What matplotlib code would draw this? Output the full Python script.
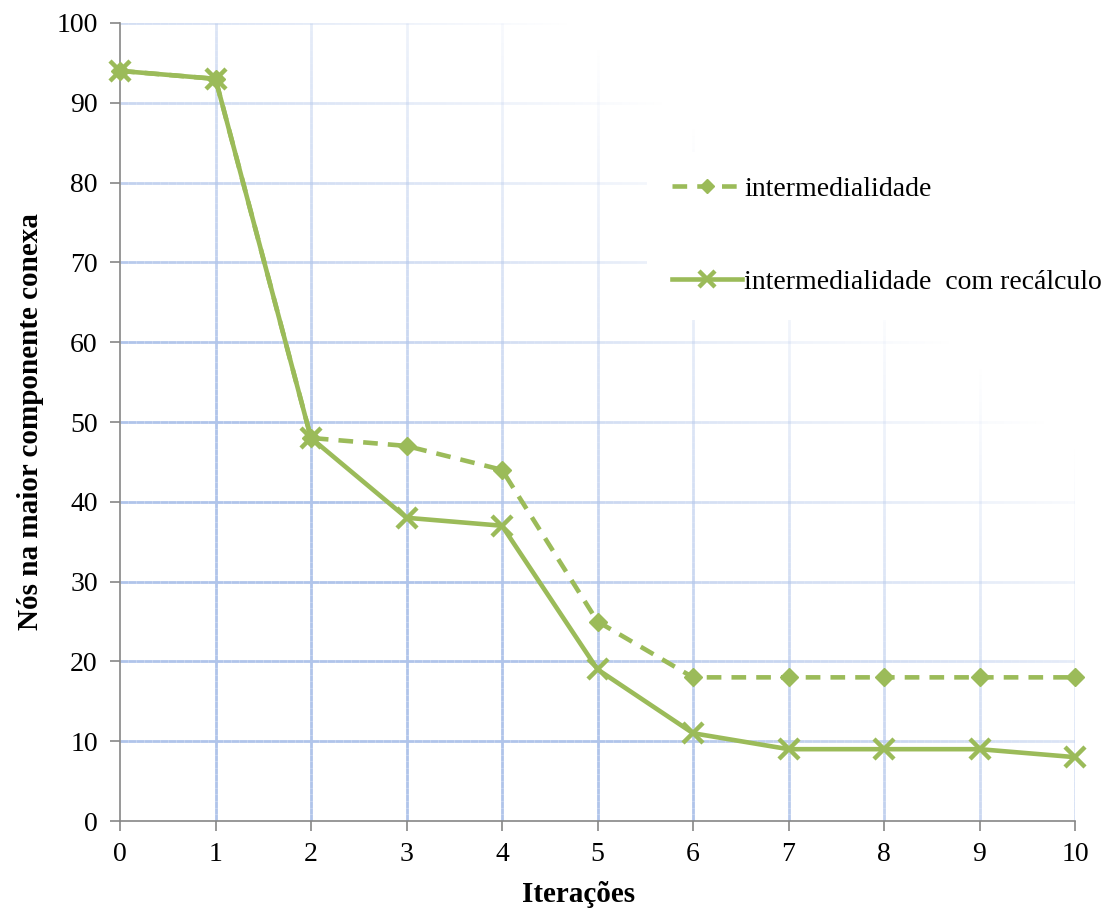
import numpy as np
import matplotlib
matplotlib.use('Agg')
import matplotlib.pyplot as plt
from matplotlib.collections import LineCollection

plt.rcParams['font.family'] = ['Liberation Serif', 'DejaVu Serif']

# data
iteracoes = [0, 1, 2, 3, 4, 5, 6, 7, 8, 9, 10]
intermedialidade = [94, 93, 48, 47, 44, 25, 18, 18, 18, 18, 18]
recalculo = [94, 93, 48, 38, 37, 19, 11, 9, 9, 9, 8]
yticks = [0, 10, 20, 30, 40, 50, 60, 70, 80, 90, 100]

verde = '#9bbb59'
azul = np.array([176, 196, 234]) / 255.0
cinza = '#868686'

fig = plt.figure(figsize=(11.18, 9.13), dpi=100)
ax = fig.add_axes([120/1118, 1 - 821/913, 955/1118, 798/913])
ax.set_xlim(0, 10)
ax.set_ylim(0, 100)


def fade(xf, yf):
    # grid fades out towards the upper right corner
    return np.clip((1.47 - (xf + yf)) / 0.85, 0, 1)


def gradient_line(x0, y0, x1, y1, n=120):
    xs = np.linspace(x0, x1, n + 1)
    ys = np.linspace(y0, y1, n + 1)
    segs = [[(xs[i], ys[i]), (xs[i + 1], ys[i + 1])] for i in range(n)]
    xm = (xs[:-1] + xs[1:]) / 2 / 10
    ym = (ys[:-1] + ys[1:]) / 2 / 100
    a = fade(xm, ym)
    cols = [(azul[0], azul[1], azul[2], ai) for ai in a]
    return LineCollection(segs, colors=cols, linewidths=2.0, zorder=1)


for xv in iteracoes[1:]:
    ax.add_collection(gradient_line(xv, 0, xv, 100))
for yv in yticks[1:]:
    ax.add_collection(gradient_line(0, yv, 10, yv))

l1, = ax.plot(iteracoes, intermedialidade, color=verde, lw=3.3,
              dashes=(3.2, 2.2), marker='D', markersize=9.5,
              markeredgecolor=verde, markerfacecolor=verde,
              clip_on=False, zorder=3, label='intermedialidade')
l2, = ax.plot(iteracoes, recalculo, color=verde, lw=3.3,
              marker='x', markersize=15, markeredgewidth=3.2,
              clip_on=False, zorder=4,
              label='intermedialidade  com recálculo')

for s in ['top', 'right']:
    ax.spines[s].set_visible(False)
for s in ['left', 'bottom']:
    ax.spines[s].set_color(cinza)
    ax.spines[s].set_linewidth(1.2)

ax.set_xticks(iteracoes)
ax.set_yticks(yticks)
ax.tick_params(axis='both', colors=cinza, labelcolor='black',
               labelsize=20, length=7, width=1.2, direction='out')
ax.tick_params(axis='y', pad=9)
ax.tick_params(axis='x', pad=8)

ax.set_xlabel('Iterações', fontsize=21, fontweight='bold', labelpad=10)
ax.xaxis.set_label_coords(0.48, -0.075)
ax.set_ylabel('Nós na maior componente conexa', fontsize=21,
              fontweight='bold', labelpad=9)

leg = fig.legend(handles=[l1, l2], loc='upper left',
                 bbox_to_anchor=(0.5665, 0.849), fontsize=20,
                 frameon=True, facecolor='white', edgecolor='none',
                 framealpha=1, fancybox=False, handlelength=2.5,
                 handletextpad=0.1, labelspacing=2.42, borderpad=0.9,
                 markerscale=0.8)

fig.savefig('out.png', dpi=100)
